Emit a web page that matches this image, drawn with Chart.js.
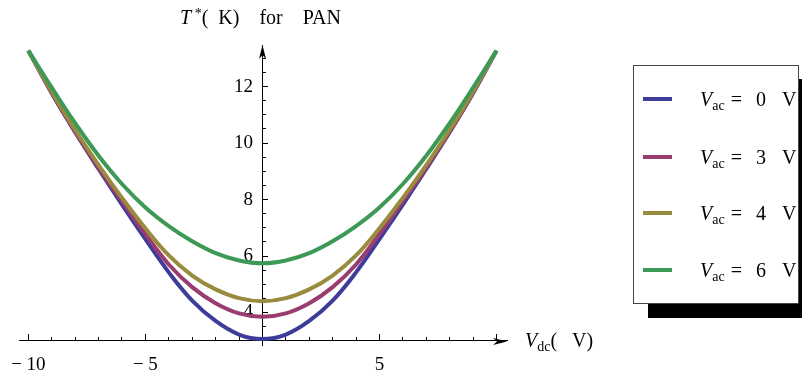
<!DOCTYPE html>
<html>
<head>
<meta charset="utf-8">
<title>T* for PAN</title>
<script src="https://cdn.jsdelivr.net/npm/chart.js@4.4.1/dist/chart.umd.min.js"></script>
<style>
body { margin: 0; background: #fff; }
#box { position: relative; width: 802px; height: 372px; overflow: hidden; font-family: "Liberation Serif", "Times New Roman", serif; color: #000; }
#plot { position: absolute; left: 0; top: 0; }
.lbl { position: absolute; white-space: nowrap; font-size: 20px; line-height: 24px; }
#title { left: 180px; top: 5px; }
#xname { left: 525px; top: 328px; }
#legend { position: absolute; left: 633px; top: 65px; width: 164px; height: 237px; border: 1px solid #444; background: #fff; box-shadow: 15px 14px 0 #000; }
.row { position: absolute; left: 0; width: 164px; height: 24px; line-height: 24px; font-size: 20px; white-space: nowrap; }
.swatch { position: absolute; left: 9px; top: 10px; width: 29px; height: 4px; }
.txt { position: absolute; left: 66px; top: 0; }
.gap1 { display: inline-block; width: 6px; }
.gap2 { display: inline-block; width: 14px; }
.gap3 { display: inline-block; width: 16px; }
sub { font-size: 14px; vertical-align: -4px; line-height: 0; }
sup { font-size: 14px; vertical-align: 6px; line-height: 0; }
</style>
</head>
<body>
<div id="box">
  <canvas id="plot" width="802" height="372"></canvas>
  <div class="lbl" id="title"><i>T</i><sup>&nbsp;*</sup>(&nbsp;&nbsp;K)&nbsp;&nbsp;&nbsp;&nbsp;for&nbsp;&nbsp;&nbsp;&nbsp;PAN</div>
  <div class="lbl" id="xname"><i>V</i><sub>dc</sub>(&nbsp;&nbsp;&nbsp;V)</div>
  <div id="legend"></div>
</div>
<script>
// T* (K) against V_dc (V), one curve per V_ac level
var vdc = [-10, -9, -8, -7, -6, -5, -4, -3, -2, -1, 0, 1, 2, 3, 4, 5, 6, 7, 8, 9, 10];
var tVac0 = [13.27, 11.76, 10.38, 9.08, 7.82, 6.60, 5.42, 4.42, 3.70, 3.22, 3.06, 3.22, 3.70, 4.42, 5.42, 6.60, 7.82, 9.08, 10.38, 11.76, 13.27];
var tVac3 = [13.27, 11.78, 10.40, 9.12, 7.94, 6.78, 5.70, 4.90, 4.33, 3.97, 3.85, 3.97, 4.33, 4.90, 5.70, 6.78, 7.94, 9.12, 10.40, 11.78, 13.27];
var tVac4 = [13.27, 11.82, 10.46, 9.22, 8.06, 6.98, 6.02, 5.31, 4.82, 4.51, 4.40, 4.51, 4.82, 5.31, 6.02, 6.98, 8.06, 9.22, 10.46, 11.82, 13.27];
var tVac6 = [13.27, 11.96, 10.70, 9.55, 8.55, 7.72, 7.06, 6.52, 6.10, 5.84, 5.74, 5.84, 6.10, 6.52, 7.06, 7.72, 8.55, 9.55, 10.70, 11.96, 13.27];

var vacLevels = [0, 3, 4, 6];
var curveColors = ['#3d3d99', '#993d71', '#998b3d', '#3d9956'];

// labelled ticks
var xTickText = { '-10': '\u2212 10', '-5': '\u2212 5', '5': '5' };
var yTickLabels = [4, 6, 8, 10, 12];

var fontFamily = "'Liberation Serif', 'Times New Roman', serif";

function points(ys) {
    var out = [];
    for (var i = 0; i < vdc.length; i++) {
        out.push({ x: vdc[i], y: ys[i] });
    }
    return out;
}

var series = [tVac0, tVac3, tVac4, tVac6];
var datasets = [];
for (var i = 0; i < series.length; i++) {
    datasets.push({
        label: 'V_ac = ' + vacLevels[i] + ' V',
        data: points(series[i]),
        borderColor: curveColors[i],
        borderWidth: 4,
        pointRadius: 0,
        tension: 0.4,
        order: series.length - i
    });
}

// arrow heads on the ends of both axes
var axisArrows = {
    id: 'axisArrows',
    afterDraw: function (chart) {
        var c = chart.ctx;
        var xs = chart.scales.x, ys = chart.scales.y;
        var ax = Math.round(xs.getPixelForValue(0)) + 0.5;
        var ay = Math.round(ys.getPixelForValue(3)) + 0.5;
        var right = chart.chartArea.right, top = chart.chartArea.top;
        c.save();
        c.fillStyle = '#000';
        c.beginPath();
        c.moveTo(right, ay);
        c.lineTo(right - 14, ay - 3.5);
        c.lineTo(right - 10, ay);
        c.lineTo(right - 14, ay + 3.5);
        c.closePath();
        c.fill();
        c.beginPath();
        c.moveTo(ax, top);
        c.lineTo(ax - 3.5, top + 14);
        c.lineTo(ax, top + 10);
        c.lineTo(ax + 3.5, top + 14);
        c.closePath();
        c.fill();
        c.restore();
    }
};

// axes sit inside the plot, so their labels should not push the chart area in
function noEdgePadding(scale) {
    scale.paddingLeft = 0;
    scale.paddingRight = 0;
    scale.paddingTop = 0;
    scale.paddingBottom = 0;
}

var xMin = -10.4, xMax = 10.45, yMin = 2.85, yMax = 13.47;

var ctx = document.getElementById('plot').getContext('2d');
var chart = new Chart(ctx, {
    type: 'line',
    data: { datasets: datasets },
    options: {
        responsive: false,
        animation: false,
        layout: { padding: { left: 19, right: 295, top: 45, bottom: 27 } },
        plugins: { legend: { display: false }, tooltip: { enabled: false } },
        scales: {
            x: {
                type: 'linear', min: xMin, max: xMax,
                position: { y: 3 },
                afterFit: noEdgePadding,
                border: { color: '#000', width: 1 },
                grid: { drawOnChartArea: false, tickLength: -7, tickColor: '#000', tickWidth: 1 },
                ticks: {
                    stepSize: 5, includeBounds: false, autoSkip: false, maxRotation: 0,
                    color: '#000', padding: 20, font: { family: fontFamily, size: 19 },
                    callback: function (v) { return xTickText[String(v)] || ''; }
                }
            },
            xMinor: {
                axis: 'x', type: 'linear', min: xMin, max: xMax,
                position: { y: 3 },
                afterFit: noEdgePadding,
                border: { display: false },
                grid: { drawOnChartArea: false, tickLength: -4, tickColor: '#000', tickWidth: 1 },
                ticks: { stepSize: 1, includeBounds: false, display: false }
            },
            y: {
                type: 'linear', min: yMin, max: yMax,
                position: { x: 0 },
                afterFit: noEdgePadding,
                border: { color: '#000', width: 1 },
                grid: { drawOnChartArea: false, tickLength: -6, tickColor: '#000', tickWidth: 1 },
                ticks: {
                    stepSize: 2, includeBounds: false, autoSkip: false,
                    color: '#000', font: { family: fontFamily, size: 19 },
                    // en space keeps the number clear of the axis line
                    callback: function (v) { return yTickLabels.indexOf(v) >= 0 ? v + '\u2002' : ''; }
                }
            },
            yMinor: {
                axis: 'y', type: 'linear', min: yMin, max: yMax,
                position: { x: 0 },
                afterFit: noEdgePadding,
                border: { display: false },
                grid: { drawOnChartArea: false, tickLength: -4, tickColor: '#000', tickWidth: 1 },
                ticks: { stepSize: 0.5, includeBounds: false, display: false }
            }
        }
    },
    plugins: [axisArrows]
});

// legend box built from the datasets
var legend = document.getElementById('legend');
var rowTops = [21, 79, 135, 192];
chart.data.datasets.forEach(function (ds, i) {
    var row = document.createElement('div');
    row.className = 'row';
    row.style.top = rowTops[i] + 'px';
    row.innerHTML = '<span class="swatch" style="background:' + ds.borderColor + '"></span>' +
        '<span class="txt"><i>V</i><sub>ac</sub><span class="gap1"></span>=<span class="gap2"></span>' +
        vacLevels[i] + '<span class="gap3"></span>V</span>';
    legend.appendChild(row);
});
</script>
</body>
</html>
